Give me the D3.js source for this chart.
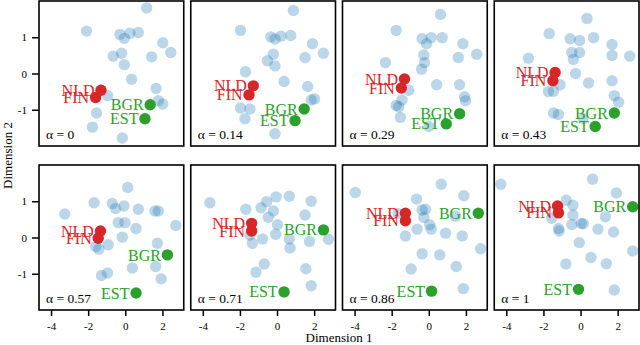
<!DOCTYPE html>
<html>
<head>
<meta charset="utf-8">
<script src="https://cdn.jsdelivr.net/npm/d3@7"></script>
<style>
  body { margin: 0; background: #fff; }
  svg { display: block; font-family: "Liberation Serif", "Times New Roman", serif; }
</style>
</head>
<body>
<svg id="chart" width="640" height="345"></svg>
<script>
(function() {
    // valeurs de alpha, un panneau par valeur
    var alphas = [0, 0.14, 0.29, 0.43, 0.57, 0.71, 0.86, 1];
    var alphaLabels = ["0", "0.14", "0.29", "0.43", "0.57", "0.71", "0.86", "1"];

    // pays en bleu (non etiquetes), un tableau par panneau
    var pts0 = [[1.15, 1.81], [-2.09, 1.17], [-0.29, 1.08], [-0.05, 0.97], [0.25, 1.11], [0.70, 1.13], [2.02, 0.85], [2.45, 0.58], [-0.65, 0.48], [-0.20, 0.56], [1.42, 0.46], [-0.05, 0.24], [0.34, -0.16], [1.66, -0.41], [1.78, -0.75], [2.02, -0.84], [-0.95, -0.61], [-1.55, -1.09], [-1.77, -1.48], [-0.16, -1.78]];
    var pts1 = [[0.88, 1.74], [-1.97, 1.19], [-0.34, 1.01], [-0.11, 0.95], [0.21, 1.03], [0.74, 1.05], [1.91, 0.82], [2.50, 0.56], [-0.20, 0.53], [-0.52, 0.35], [-0.11, 0.21], [1.51, 0.44], [-1.70, 0.05], [0.38, -0.22], [1.65, -0.36], [1.84, -0.73], [2.02, -0.70], [-1.97, -0.95], [-1.46, -0.98], [-1.73, -1.25], [-0.11, -1.66]];
    var pts2 = [[0.63, 1.63], [-1.76, 1.19], [-0.36, 0.96], [-0.12, 0.82], [0.13, 0.99], [0.72, 0.99], [1.84, 0.82], [2.58, 0.53], [-0.27, 0.51], [1.59, 0.44], [-2.34, 0.30], [-0.23, 0.30], [-0.39, 0.12], [0.42, -0.31], [1.66, -0.31], [-1.08, -0.46], [1.93, -0.64], [1.98, -0.75], [-1.44, -0.73], [-1.75, -0.88], [-1.62, -0.92], [-1.53, -1.21], [0.0, -1.46]];
    var pts3 = [[0.35, 1.52], [-1.69, 1.10], [-0.56, 0.96], [-0.05, 0.91], [0.70, 0.99], [1.70, 0.80], [1.70, 0.50], [2.65, 0.48], [-0.47, 0.58], [-0.05, 0.58], [-0.38, 0.39], [-2.81, 0.42], [-0.27, 0.0], [0.43, -0.26], [1.70, -0.20], [-1.10, -0.31], [-1.73, -0.50], [-1.46, -0.49], [1.82, -0.61], [2.05, -0.79], [-1.46, -1.09], [-1.19, -1.13], [0.13, -1.25]];
    var pts4 = [[0.13, 1.38], [-1.68, 0.96], [-0.70, 0.94], [-0.52, 0.80], [-0.07, 0.87], [0.70, 0.78], [1.60, 0.73], [1.78, 0.73], [-3.26, 0.65], [2.72, 0.33], [-0.38, 0.41], [-0.02, 0.41], [0.58, 0.25], [-0.16, 0.01], [1.73, -0.16], [-1.60, -0.25], [-1.42, -0.32], [-0.92, -0.20], [0.38, -0.84], [1.64, -0.80], [1.93, -1.14], [-1.28, -1.05], [-0.96, -0.98]];
    var pts5 = [[-3.62, 0.96], [-1.68, 0.78], [-0.86, 0.82], [-0.56, 0.99], [-0.05, 1.12], [0.66, 1.14], [1.84, 1.00], [-0.20, 0.73], [-0.47, 0.56], [0.02, 0.35], [1.51, 0.62], [-0.07, 0.09], [-1.33, -0.16], [-0.78, -0.04], [0.66, -0.04], [0.70, -0.29], [1.75, -0.11], [2.77, -0.05], [-1.46, 0.07], [-0.69, -0.73], [-1.14, -0.96], [1.55, -0.86], [1.84, -1.33]];
    var pts6 = [[-3.96, 1.24], [0.67, 1.47], [-0.66, 1.06], [1.89, 1.15], [-0.36, 0.76], [-0.18, 0.78], [-0.27, 0.55], [1.44, 0.59], [-1.65, 0.66], [-0.63, 0.23], [0.05, 0.35], [0.13, 0.23], [-1.26, 0.04], [0.90, 0.12], [1.80, 0.04], [2.79, -0.31], [-0.36, -0.45], [0.59, -0.48], [-0.95, -0.87], [1.48, -0.80], [1.86, -1.41]];
    var pts7 = [[-4.30, 1.47], [0.65, 1.61], [1.93, 1.23], [-0.77, 1.03], [-0.41, 0.89], [1.34, 0.57], [-1.55, 0.53], [-0.41, 0.62], [-0.47, 0.36], [0.03, 0.39], [0.15, 0.38], [-1.19, 0.25], [-1.15, 0.18], [0.94, 0.23], [1.78, 0.15], [-0.07, -0.14], [2.81, -0.37], [0.56, -0.55], [-0.79, -0.73], [1.39, -0.72], [1.82, -1.45]];
    var others = [pts0, pts1, pts2, pts3, pts4, pts5, pts6, pts7];

    // pays etiquetes, une position par panneau
    var nld = [[-1.31, -0.46], [-1.28, -0.34], [-1.31, -0.15], [-1.37, 0.03], [-1.34, 0.18], [-1.37, 0.39], [-1.26, 0.67], [-1.24, 0.87]];
    var fin = [[-1.60, -0.66], [-1.51, -0.59], [-1.48, -0.40], [-1.49, -0.20], [-1.46, -0.02], [-1.37, 0.18], [-1.26, 0.46], [-1.19, 0.68]];
    var bgr = [[1.34, -0.86], [1.46, -0.98], [1.66, -1.11], [1.82, -1.09], [2.27, -0.48], [2.50, 0.21], [2.67, 0.67], [2.81, 0.85]];
    var est = [[1.06, -1.25], [0.97, -1.30], [0.94, -1.39], [0.79, -1.46], [0.58, -1.53], [0.38, -1.50], [0.15, -1.48], [-0.11, -1.43]];

    var xTicks = [-4, -2, 0, 2];
    var yTicks = [-1, 0, 1];

    var labelled = [
        { name: "NLD", pos: nld, color: "#d62728" },
        { name: "FIN", pos: fin, color: "#d62728" },
        { name: "BGR", pos: bgr, color: "#2ca02c" },
        { name: "EST", pos: est, color: "#2ca02c" }
    ];

    var svg = d3.select("#chart"),
        left = 39,
        pw = 144.75,
        ph = 145,
        gapX = 7,
        rowTop = [1, 165],
        r = 5.7;

    var x = d3.scaleLinear().domain([-4.65, 3.15]).range([0, pw]);
    var y = d3.scaleLinear().domain([-2, 2]).range([ph, 0]);

    alphas.forEach(function(a, i) {
        var col = i % 4,
            row = Math.floor(i / 4);
        var g = svg.append("g")
            .attr("transform", "translate(" + (left + col * (pw + gapX)) + "," + rowTop[row] + ")");

        g.append("clipPath").attr("id", "clip" + i)
            .append("rect").attr("width", pw).attr("height", ph);

        var inner = g.append("g").attr("clip-path", "url(#clip" + i + ")");

        inner.selectAll("circle.other")
            .data(others[i])
            .enter().append("circle")
            .attr("class", "other")
            .attr("cx", function(d) { return x(d[0]); })
            .attr("cy", function(d) { return y(d[1]); })
            .attr("r", r)
            .attr("fill", "#1f77b4")
            .attr("fill-opacity", 0.3);

        labelled.forEach(function(c) {
            var p = c.pos[i];
            inner.append("circle")
                .attr("cx", x(p[0]))
                .attr("cy", y(p[1]))
                .attr("r", r)
                .attr("fill", c.color);
        });

        labelled.forEach(function(c) {
            var p = c.pos[i];
            inner.append("text")
                .attr("x", x(p[0]) - 6.5)
                .attr("y", y(p[1]))
                .attr("dy", "0.35em")
                .attr("text-anchor", "end")
                .attr("font-size", 16)
                .attr("fill", c.color)
                .text(c.name);
        });

        g.append("text")
            .attr("x", 7)
            .attr("y", ph - 7.5)
            .attr("font-size", 13.5)
            .text("\u03b1 = " + alphaLabels[i]);

        g.append("rect")
            .attr("width", pw)
            .attr("height", ph)
            .attr("fill", "none")
            .attr("stroke", "#000")
            .attr("stroke-width", 1.6);

        if (col === 0) {
            var ya = g.append("g")
                .call(d3.axisLeft(y).tickValues(yTicks).tickSize(7).tickPadding(5)
                    .tickFormat(function(d) { return String(d); }));
            ya.select(".domain").remove();
            ya.selectAll("line").attr("stroke-width", 1.5);
            ya.selectAll("text").attr("font-size", 11);
            ya.attr("font-family", null);
        }
        if (row === 1) {
            var xa = g.append("g")
                .attr("transform", "translate(0," + ph + ")")
                .call(d3.axisBottom(x).tickValues(xTicks).tickSize(6).tickPadding(6)
                    .tickFormat(function(d) { return String(d); }));
            xa.select(".domain").remove();
            xa.selectAll("line").attr("stroke-width", 1.5);
            xa.selectAll("text").attr("font-size", 11);
            xa.attr("font-family", null);
        }
    });

    // titres des axes
    svg.append("text")
        .attr("x", left + (4 * pw + 3 * gapX) / 2)
        .attr("y", 342)
        .attr("text-anchor", "middle")
        .attr("font-size", 13)
        .text("Dimension 1");

    svg.append("text")
        .attr("transform", "translate(12," + ((rowTop[0] + rowTop[1] + ph) / 2) + ") rotate(-90)")
        .attr("text-anchor", "middle")
        .attr("font-size", 13)
        .text("Dimension 2");
})();
</script>
</body>
</html>
